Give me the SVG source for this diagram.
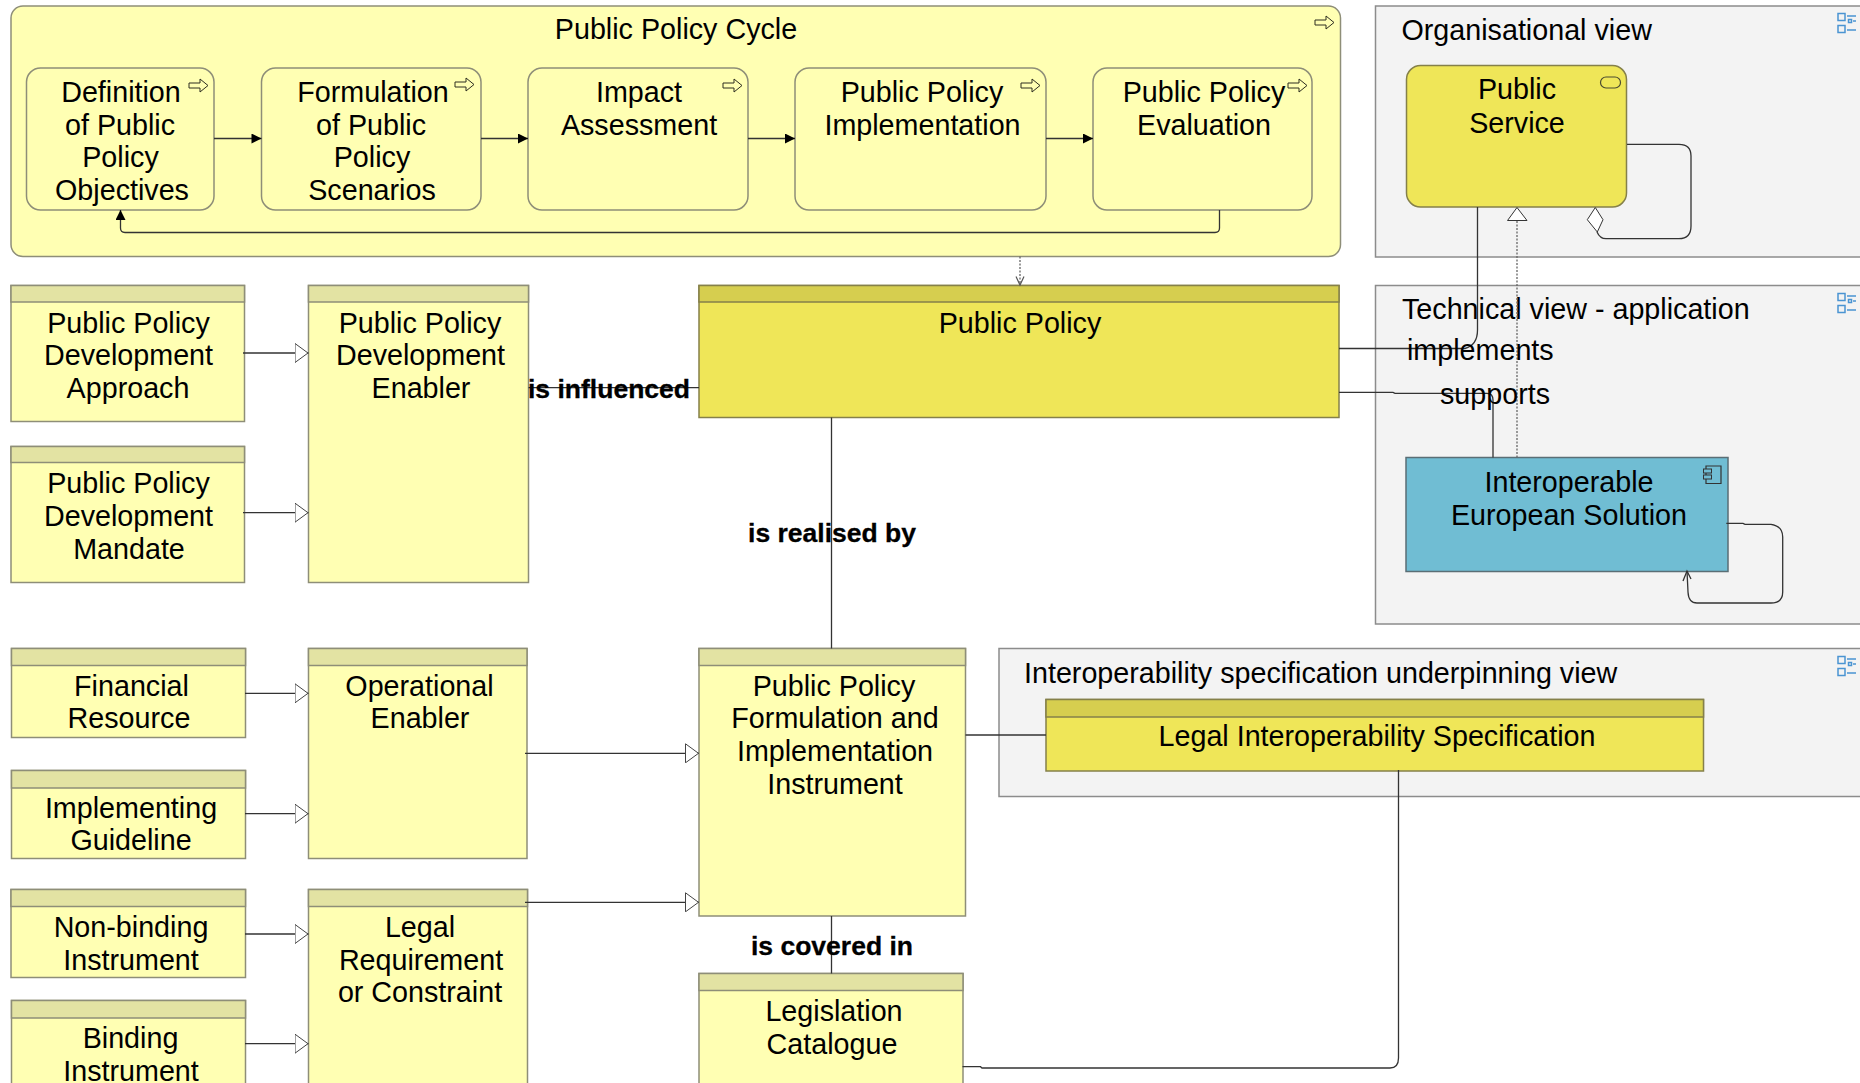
<svg xmlns="http://www.w3.org/2000/svg" width="1860" height="1083" viewBox="0 0 1860 1083">
<style>
text{font-family:"Liberation Sans",Arial,sans-serif;font-size:28.7px;fill:#000;text-anchor:middle}
g:not(#connectors):not(#interop-view):not(#legal-spec) text{transform:translateY(1px)}
.s{text-anchor:start}
.b{font-weight:bold;font-size:26.5px;stroke:#000;stroke-width:.3}
.y{fill:#FFFFB3;stroke:#8E8E78;stroke-width:1.5}
.h{fill:#E3E3A3;stroke:#8E8E78;stroke-width:1.5}
.d{fill:#EFE658;stroke:#85804A;stroke-width:1.5}
.dh{fill:#D6CE4F;stroke:#85804A;stroke-width:1.5}
.v{fill:#F3F3F3;stroke:#8C8C8C;stroke-width:1.5}
.ic{fill:#FFFFB3;stroke:#2E2E20;stroke-width:1}
.g{fill:none;stroke:#4A94D2;stroke-width:1.5}
.l{fill:none;stroke:#333;stroke-width:1.3}
.dot{fill:none;stroke:#666;stroke-width:1.3;stroke-dasharray:2 1.5}
</style>
<defs>
<marker id="fill" viewBox="0 0 10 10" refX="10" refY="5" markerWidth="10.500" markerHeight="10" markerUnits="userSpaceOnUse" orient="auto"><path d="M0 0L10 5L0 10Z" fill="#000"/></marker>
<marker id="tri" viewBox="0 0 14 20" refX="14" refY="10" markerWidth="14" markerHeight="20" markerUnits="userSpaceOnUse" orient="auto"><path d="M0.500 0.500L13.500 10L0.500 19.500Z" fill="#fff" stroke="#444" stroke-width="1"/></marker>
<path id="ar" d="M0 4H11V0L19 6.500L11 13V9H0Z"/>
<g id="gi"><rect x="1838" y="0" width="7" height="7"/><rect x="1838" y="12" width="7" height="7"/><path d="M1847 2.500H1856M1847 16.500H1856M1853 7.500H1856"/><rect x="1848.500" y="6" width="3" height="3"/></g>
</defs>

<g id="policy-cycle">
<rect class="y" x="11" y="6" width="1329.500" height="250.500" rx="12"/>
<use href="#ar" class="ic" x="1315" y="16"/>
<text x="676" y="38">Public Policy Cycle</text>
</g>
<g id="definition">
<rect class="y" x="26.500" y="68" width="187.500" height="142" rx="14"/>
<use href="#ar" class="ic" x="189" y="79"/>
<text x="121" y="101">Definition</text><text x="120" y="133.500">of Public</text><text x="120.500" y="166">Policy</text><text x="122" y="199">Objectives</text>
</g>
<g id="formulation">
<rect class="y" x="261.500" y="68" width="219.500" height="142" rx="14"/>
<use href="#ar" class="ic" x="455" y="78"/>
<text x="373" y="101">Formulation</text><text x="371" y="133.500">of Public</text><text x="372" y="166">Policy</text><text x="372" y="199">Scenarios</text>
</g>
<g id="impact">
<rect class="y" x="528" y="68" width="220" height="142" rx="14"/>
<use href="#ar" class="ic" x="723" y="79"/>
<text x="639" y="101">Impact</text><text x="639" y="133.500">Assessment</text>
</g>
<g id="implementation">
<rect class="y" x="795" y="68" width="251" height="142" rx="14"/>
<use href="#ar" class="ic" x="1021" y="79"/>
<text x="922" y="101">Public Policy</text><text x="922.500" y="133.500">Implementation</text>
</g>
<g id="evaluation">
<rect class="y" x="1093" y="68" width="219" height="142" rx="14"/>
<use href="#ar" class="ic" x="1288" y="79"/>
<text x="1204" y="101">Public Policy</text><text x="1204" y="133.500">Evaluation</text>
</g>

<g id="organisational-view">
<rect class="v" x="1375.500" y="6" width="500" height="251"/>
<use href="#gi" class="g" y="13.500"/>
<text class="s" x="1401.500" y="38.500">Organisational view</text>
</g>
<g id="public-service">
<rect class="d" x="1406.500" y="65.500" width="220" height="141.500" rx="14"/>
<rect x="1600.500" y="77" width="20" height="11" rx="5.500" fill="none" stroke="#4A4A30" stroke-width="1.200"/>
<text x="1517" y="98">Public</text><text x="1517" y="131.500">Service</text>
</g>
<g id="technical-view">
<rect class="v" x="1375.500" y="285.500" width="500" height="338.500"/>
<use href="#gi" class="g" y="293.500"/>
<text class="s" x="1402" y="318">Technical view - application</text>
</g>
<g id="solution">
<rect x="1406" y="457.500" width="322" height="114" fill="#70BDD3" stroke="#5A6E75" stroke-width="1.500"/>
<path d="M1706 466H1721V483.500H1706Z" fill="none" stroke="#333" stroke-width="1.200"/>
<rect x="1703.500" y="469" width="8" height="4" fill="#70BDD3" stroke="#333"/><rect x="1703.500" y="475" width="8" height="4" fill="#70BDD3" stroke="#333"/>
<text x="1569" y="491">Interoperable</text><text x="1569" y="523.500">European Solution</text>
</g>
<g id="interop-view">
<rect class="v" x="999" y="648.500" width="876" height="148"/>
<use href="#gi" class="g" y="656.500"/>
<text class="s" x="1024" y="682.500">Interoperability specification underpinning view</text>
</g>
<g id="legal-spec">
<rect class="d" x="1046" y="699.500" width="657.500" height="71.500"/><rect class="dh" x="1046" y="699.500" width="657.500" height="17.500"/>
<text x="1377" y="745.500">Legal Interoperability Specification</text>
</g>

<g id="public-policy">
<rect class="d" x="699" y="285.500" width="640" height="132"/><rect class="dh" x="699" y="285.500" width="640" height="16.500"/>
<text x="1020" y="332">Public Policy</text>
</g>
<g id="dev-approach">
<rect class="y" x="11" y="285.500" width="233.500" height="136"/><rect class="h" x="11" y="285.500" width="233.500" height="16.500"/>
<text x="128.500" y="332">Public Policy</text><text x="128.500" y="364">Development</text><text x="128" y="397">Approach</text>
</g>
<g id="dev-mandate">
<rect class="y" x="11" y="446.500" width="233.500" height="136"/><rect class="h" x="11" y="446.500" width="233.500" height="16"/>
<text x="128.500" y="492">Public Policy</text><text x="128.500" y="525">Development</text><text x="129" y="557.500">Mandate</text>
</g>
<g id="dev-enabler">
<rect class="y" x="308.500" y="285.500" width="220" height="297"/><rect class="h" x="308.500" y="285.500" width="220" height="16.500"/>
<text x="420" y="332">Public Policy</text><text x="420.500" y="364">Development</text><text x="421" y="397">Enabler</text>
</g>
<g id="financial">
<rect class="y" x="11.500" y="648.500" width="234" height="89"/><rect class="h" x="11.500" y="648.500" width="234" height="17"/>
<text x="131.500" y="695">Financial</text><text x="129" y="727">Resource</text>
</g>
<g id="guideline">
<rect class="y" x="11.500" y="770.500" width="234" height="88"/><rect class="h" x="11.500" y="770.500" width="234" height="17.500"/>
<text x="131" y="816.500">Implementing</text><text x="131" y="849">Guideline</text>
</g>
<g id="nonbinding">
<rect class="y" x="11" y="889.500" width="234.500" height="88"/><rect class="h" x="11" y="889.500" width="234.500" height="17"/>
<text x="131" y="936">Non-binding</text><text x="131" y="969">Instrument</text>
</g>
<g id="binding">
<rect class="y" x="11.500" y="1000.500" width="234" height="100"/><rect class="h" x="11.500" y="1000.500" width="234" height="17.500"/>
<text x="130.500" y="1047">Binding</text><text x="131" y="1079.500">Instrument</text>
</g>
<g id="operational">
<rect class="y" x="308.500" y="648.500" width="218.500" height="210"/><rect class="h" x="308.500" y="648.500" width="218.500" height="17"/>
<text x="419.500" y="695">Operational</text><text x="420" y="727">Enabler</text>
</g>
<g id="legal-req">
<rect class="y" x="308.500" y="889.500" width="219" height="220"/><rect class="h" x="308.500" y="889.500" width="219" height="17"/>
<text x="420" y="936">Legal</text><text x="421" y="969">Requirement</text><text x="420" y="1000.500">or Constraint</text>
</g>
<g id="instrument">
<rect class="y" x="699" y="648.500" width="266.500" height="267.500"/><rect class="h" x="699" y="648.500" width="266.500" height="17"/>
<text x="834" y="695">Public Policy</text><text x="835" y="727">Formulation and</text><text x="835" y="760">Implementation</text><text x="835" y="793">Instrument</text>
</g>
<g id="legislation">
<rect class="y" x="699" y="973.500" width="264" height="130"/><rect class="h" x="699" y="973.500" width="264" height="17"/>
<text x="834" y="1020">Legislation</text><text x="832" y="1052.500">Catalogue</text>
</g>

<g id="connectors">
<path class="l" marker-end="url(#fill)" d="M214 138.500H261.500"/><path class="l" marker-end="url(#fill)" d="M481 138.500H528"/><path class="l" marker-end="url(#fill)" d="M748 138.500H795"/><path class="l" marker-end="url(#fill)" d="M1046 138.500H1093"/>
<path class="l" marker-end="url(#fill)" d="M1219.500 210V228Q1219.500 232.500 1215 232.500H125Q120.500 232.500 120.500 228V210"/>
<path class="dot" d="M1020 256.500V285"/>
<path d="M1016 276.500L1020 285L1024 276.500" fill="none" stroke="#555" stroke-width="1.200"/>
<path class="l" marker-end="url(#tri)" d="M243 353H308.500"/>
<path class="l" marker-end="url(#tri)" d="M243 512.700H308.500"/>
<path class="l" marker-end="url(#tri)" d="M245 693.300H308.500"/>
<path class="l" marker-end="url(#tri)" d="M245 813.700H308.500"/>
<path class="l" marker-end="url(#tri)" d="M245 934H308.500"/>
<path class="l" marker-end="url(#tri)" d="M245 1043.700H308.500"/>
<path class="l" marker-end="url(#tri)" d="M525 753.300H699"/>
<path class="l" marker-end="url(#tri)" d="M525 902.300H699"/>
<path class="l" d="M528.500 387.700H699"/>
<path class="l" d="M831.500 417.500V648.500"/>
<path class="l" d="M831.500 916V973.500"/>
<path class="l" d="M965.500 735H1046"/>
<path class="l" d="M962.500 1066.700H980.500L982 1068H1390Q1398.500 1068 1398.500 1058V770"/>
<path class="l" d="M1339 348.500H1465Q1477.500 345 1477.500 330V207"/>
<path class="l" d="M1339 392.300H1393L1395 393.300H1487Q1493 393.300 1493 400V457.500"/>
<path class="dot" d="M1517 457.500V221"/>
<path d="M1517 207.500L1527 220.500H1507.500Z" fill="#fff" stroke="#333" stroke-width="1"/>
<path class="l" d="M1627 144.300H1679Q1691 144.300 1691 156V226Q1691 238.700 1679 238.700H1606Q1600 238.700 1597 232"/>
<path d="M1595.300 207.500L1603 219.700L1597.300 232L1587.300 219.700Z" fill="#fff" stroke="#333" stroke-width="1"/>
<path class="l" d="M1726.300 523.300H1743L1745 524.300H1771Q1782.700 526 1782.700 537V592Q1782.700 603 1771 603H1697Q1688.500 603 1688 592L1687 571"/>
<path class="l" d="M1683 581L1687 571L1691 579"/>
<text class="b" x="609" y="398">is influenced</text>
<text class="b" x="832" y="542">is realised by</text>
<text class="b" x="832" y="955">is covered in</text>
<text class="s" x="1407" y="359.500">implements</text>
<text class="s" x="1440" y="404">supports</text>
</g>
</svg>
